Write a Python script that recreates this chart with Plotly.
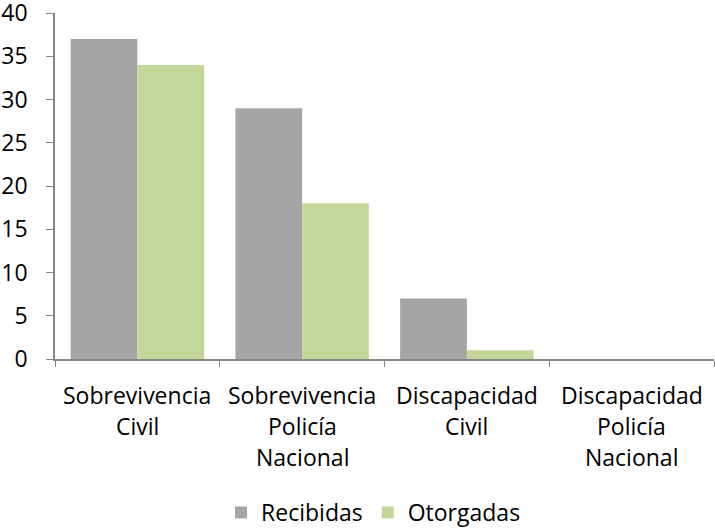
import plotly.graph_objects as go

categories = ["Sobrevivencia Civil", "Sobrevivencia Policía Nacional",
              "Discapacidad Civil", "Discapacidad Policía Nacional"]
category_lines = [["Sobrevivencia", "Civil"], ["Sobrevivencia", "Policía", "Nacional"],
                  ["Discapacidad", "Civil"], ["Discapacidad", "Policía", "Nacional"]]
recibidas = [37, 29, 7, 0]
otorgadas = [34, 18, 1, 0]
y_ticks = [0, 5, 10, 15, 20, 25, 30, 35, 40]

font_family = "'Open Sans', sans-serif"
axis_color = "#868686"
fsize = 23

fig = go.Figure()
fig.add_trace(go.Bar(x=categories, y=recibidas, name="Recibidas",
                     marker=dict(color="#A5A5A5", line=dict(width=0))))
fig.add_trace(go.Bar(x=categories, y=otorgadas, name="Otorgadas",
                     marker=dict(color="#C4D79B", line=dict(width=0))))

# multi-line category labels with wider line spacing
for cat, lines in zip(categories, category_lines):
    for j, line in enumerate(lines):
        fig.add_annotation(x=cat, xref="x", y=0, yref="paper", text=line,
                           showarrow=False, xanchor="center", yanchor="top",
                           yshift=-18 - 31 * j, font=dict(size=fsize, color="#000000"))

fig.update_layout(
    width=715, height=530,
    barmode="group", bargap=0.19, bargroupgap=0,
    plot_bgcolor="white", paper_bgcolor="white",
    font=dict(family=font_family, size=fsize, color="#000000"),
    margin=dict(l=55, r=1, t=13, b=171, autoexpand=False),
    showlegend=True,
    legend=dict(orientation="h", x=0.252, xanchor="left", y=-0.3815, yanchor="top",
                font=dict(size=fsize), traceorder="normal", itemwidth=30),
    xaxis=dict(showline=True, linecolor=axis_color, linewidth=1.5,
               ticks="outside", tickson="boundaries", ticklen=6, tickcolor=axis_color,
               showgrid=False, showticklabels=False, automargin=False),
    yaxis=dict(range=[0, 40], tickvals=y_ticks, showline=True, linecolor=axis_color,
               linewidth=1.5, ticks="outside", ticklen=7, tickcolor=axis_color,
               showgrid=False, zeroline=False, tickfont=dict(size=fsize),
               ticklabelstandoff=14, automargin=False, ticklabeloverflow="allow"),
)

fig.write_html("out.html", config={"displayModeBar": False},
               post_script="document.body.style.margin='0';")
